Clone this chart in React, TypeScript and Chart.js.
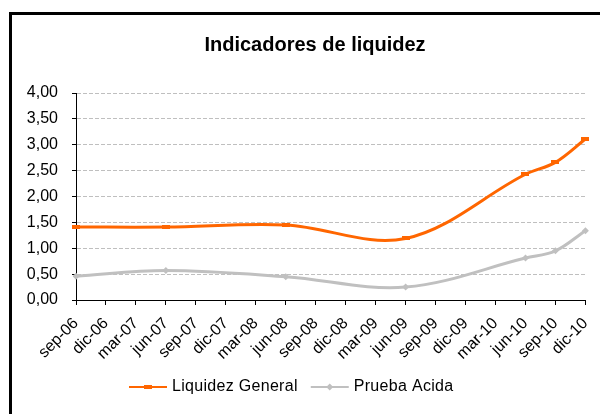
import { useEffect, useRef } from "react";
import { Chart, registerables } from "chart.js";

Chart.register(...registerables);

const TITLE = "Indicadores de liquidez";
const CATEGORIES = [
  "sep-06", "dic-06", "mar-07", "jun-07", "sep-07", "dic-07", "mar-08", "jun-08", "sep-08",
  "dic-08", "mar-09", "jun-09", "sep-09", "dic-09", "mar-10", "jun-10", "sep-10", "dic-10",
];
const SERIES_NAMES = ["Liquidez General", "Prueba Acida"];
const LIQUIDEZ_GENERAL = [1.41, null, null, 1.41, null, null, null, 1.45, null, null, null, 1.19, null, null, null, 2.43, 2.66, 3.11];
const PRUEBA_ACIDA = [0.46, null, null, 0.57, null, null, null, 0.45, null, null, null, 0.25, null, null, null, 0.81, 0.95, 1.34];
const Y_MIN = 0;
const Y_MAX = 4;
const Y_STEP = 0.5;

const FONT = '"Liberation Sans", Arial, sans-serif';
const ORANGE = "#FF6600";
const GRAY = "#C0C0C0";

function makeDash(): HTMLCanvasElement {
  const c = document.createElement("canvas");
  c.width = 8;
  c.height = 4;
  const g = c.getContext("2d")!;
  g.fillStyle = ORANGE;
  g.fillRect(0, 0, 8, 4);
  return c;
}

const overlayPlugin = {
  id: "overlay",
  afterDraw(chart: any) {
    const ctx = chart.ctx as CanvasRenderingContext2D;
    ctx.save();
    ctx.fillStyle = "#000";
    ctx.font = `bold 20px ${FONT}`;
    ctx.textAlign = "center";
    ctx.textBaseline = "middle";
    ctx.fillText(TITLE, 303, 30);

    ctx.font = `16px ${FONT}`;
    (ctx as any).letterSpacing = "0.3px";
    ctx.textAlign = "left";
    let x = 117;
    const y = 372;
    chart.data.datasets.forEach((ds: any, i: number) => {
      ctx.strokeStyle = ds.borderColor;
      ctx.lineWidth = 2;
      ctx.beginPath();
      ctx.moveTo(x, y);
      ctx.lineTo(x + 38, y);
      ctx.stroke();
      const cx = x + 19;
      ctx.fillStyle = ds.borderColor;
      if (i === 0) {
        ctx.fillRect(cx - 4, y - 2, 8, 4);
      } else {
        ctx.beginPath();
        ctx.moveTo(cx, y - 3.5);
        ctx.lineTo(cx + 3.5, y);
        ctx.lineTo(cx, y + 3.5);
        ctx.lineTo(cx - 3.5, y);
        ctx.closePath();
        ctx.fill();
      }
      ctx.fillStyle = "#000";
      ctx.fillText(ds.label, x + 43, y);
      x += 43 + ctx.measureText(ds.label).width + 13;
    });
    ctx.restore();
  },
};

export default function App() {
  const ref = useRef<HTMLCanvasElement>(null);

  useEffect(() => {
    if (!ref.current) return;
    const dash = makeDash();
    const chart = new Chart(ref.current, {
      type: "line",
      data: {
        labels: CATEGORIES,
        datasets: [
          {
            label: SERIES_NAMES[0],
            data: LIQUIDEZ_GENERAL,
            borderColor: ORANGE,
            backgroundColor: ORANGE,
            borderWidth: 3,
            tension: 0.35,
            spanGaps: true,
            pointStyle: dash as any,
            pointRadius: 4,
            pointHoverRadius: 4,
          },
          {
            label: SERIES_NAMES[1],
            data: PRUEBA_ACIDA,
            borderColor: GRAY,
            backgroundColor: GRAY,
            borderWidth: 3,
            tension: 0.35,
            spanGaps: true,
            pointStyle: "rectRot",
            pointRadius: 3.5,
            pointBorderWidth: 0,
            pointHoverRadius: 3.5,
          },
        ],
      },
      options: {
        responsive: false,
        animation: false,
        events: [],
        layout: { padding: { left: 0, right: 18, top: 78, bottom: 0 } },
        plugins: {
          legend: { display: false },
          title: { display: false },
          tooltip: { enabled: false },
        },
        scales: {
          x: {
            type: "category",
            offset: false,
            grid: {
              drawOnChartArea: false,
              drawTicks: true,
              tickLength: 5,
              tickColor: "#000",
              tickWidth: 1,
            },
            border: { color: "#000", width: 1 },
            ticks: {
              autoSkip: false,
              maxRotation: 45,
              minRotation: 45,
              color: "#000",
              padding: 9,
              font: { family: FONT, size: 16 },
            },
            afterFit: (s: any) => {
              s.height = 114;
            },
          },
          y: {
            min: Y_MIN,
            max: Y_MAX,
            grid: {
              color: "#bfbfbf",
              lineWidth: 1,
              drawTicks: true,
              tickLength: 4,
              tickColor: "#000",
              tickWidth: 1,
              tickBorderDash: [],
            },
            border: { color: "#000", width: 1, dash: [4, 2] },
            ticks: {
              stepSize: Y_STEP,
              color: "#000",
              padding: 14,
              font: { family: FONT, size: 16 },
              callback: (v: any) => Number(v).toFixed(2).replace(".", ","),
            },
            afterFit: (s: any) => {
              s.width = 64;
            },
          },
        },
      },
      plugins: [overlayPlugin],
    });
    return () => chart.destroy();
  }, []);

  return (
    <div style={{ position: "relative", width: 600, height: 406, overflow: "hidden" }}>
      <div
        style={{
          position: "absolute",
          left: 1,
          top: 4,
          width: 700,
          height: 500,
          borderLeft: "3px solid #000",
          borderTop: "3px solid #000",
          boxSizing: "border-box",
        }}
      >
        <canvas ref={ref} width={596} height={399} style={{ display: "block" }} />
      </div>
    </div>
  );
}
